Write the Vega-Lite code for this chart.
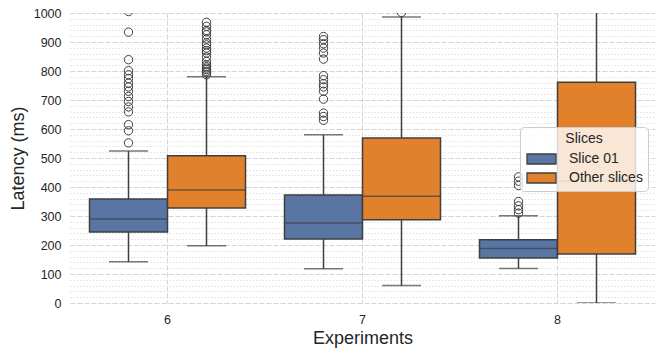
{
  "$schema": "https://vega.github.io/schema/vega-lite/v6.json",
  "width": 585,
  "height": 290,
  "autosize": {"type": "none"},
  "padding": {"left": 70, "top": 13, "right": 10, "bottom": 54},
  "background": "white",
  "config": {
    "view": {"stroke": null},
    "font": "Liberation Sans",
    "axis": {
      "domain": false,
      "ticks": false,
      "labelFont": "Liberation Sans",
      "labelFontSize": 12.5,
      "labelColor": "#262626",
      "titleFont": "Liberation Sans",
      "titleFontSize": 18,
      "titleFontWeight": "normal",
      "titleColor": "#262626",
      "gridColor": "#d4d4d4",
      "gridWidth": 1
    }
  },
  "datasets": {
    "boxes": [
      {"exp": "6", "slice": "Slice 01", "lo": 142, "q1": 245, "med": 290, "q3": 359, "hi": 524},
      {"exp": "6", "slice": "Other slices", "lo": 197, "q1": 328, "med": 390, "q3": 508, "hi": 780},
      {"exp": "7", "slice": "Slice 01", "lo": 118, "q1": 221, "med": 276, "q3": 372, "hi": 580},
      {"exp": "7", "slice": "Other slices", "lo": 60, "q1": 287, "med": 368, "q3": 569, "hi": 986},
      {"exp": "8", "slice": "Slice 01", "lo": 119, "q1": 155, "med": 188, "q3": 218, "hi": 301},
      {"exp": "8", "slice": "Other slices", "lo": 0, "q1": 169, "med": 420, "q3": 761, "hi": 1400}
    ],
    "outliers": [
      {"exp": "6", "slice": "Slice 01", "latency": 1005},
      {"exp": "6", "slice": "Slice 01", "latency": 934},
      {"exp": "6", "slice": "Slice 01", "latency": 839},
      {"exp": "6", "slice": "Slice 01", "latency": 801},
      {"exp": "6", "slice": "Slice 01", "latency": 787},
      {"exp": "6", "slice": "Slice 01", "latency": 774},
      {"exp": "6", "slice": "Slice 01", "latency": 758},
      {"exp": "6", "slice": "Slice 01", "latency": 745},
      {"exp": "6", "slice": "Slice 01", "latency": 730},
      {"exp": "6", "slice": "Slice 01", "latency": 712},
      {"exp": "6", "slice": "Slice 01", "latency": 695},
      {"exp": "6", "slice": "Slice 01", "latency": 676},
      {"exp": "6", "slice": "Slice 01", "latency": 659},
      {"exp": "6", "slice": "Slice 01", "latency": 615},
      {"exp": "6", "slice": "Slice 01", "latency": 594},
      {"exp": "6", "slice": "Slice 01", "latency": 552},
      {"exp": "6", "slice": "Other slices", "latency": 968},
      {"exp": "6", "slice": "Other slices", "latency": 954},
      {"exp": "6", "slice": "Other slices", "latency": 940},
      {"exp": "6", "slice": "Other slices", "latency": 935},
      {"exp": "6", "slice": "Other slices", "latency": 925},
      {"exp": "6", "slice": "Other slices", "latency": 910},
      {"exp": "6", "slice": "Other slices", "latency": 897},
      {"exp": "6", "slice": "Other slices", "latency": 890},
      {"exp": "6", "slice": "Other slices", "latency": 879},
      {"exp": "6", "slice": "Other slices", "latency": 870},
      {"exp": "6", "slice": "Other slices", "latency": 862},
      {"exp": "6", "slice": "Other slices", "latency": 848},
      {"exp": "6", "slice": "Other slices", "latency": 833},
      {"exp": "6", "slice": "Other slices", "latency": 822},
      {"exp": "6", "slice": "Other slices", "latency": 815},
      {"exp": "6", "slice": "Other slices", "latency": 810},
      {"exp": "6", "slice": "Other slices", "latency": 805},
      {"exp": "6", "slice": "Other slices", "latency": 799},
      {"exp": "6", "slice": "Other slices", "latency": 795},
      {"exp": "6", "slice": "Other slices", "latency": 787},
      {"exp": "7", "slice": "Slice 01", "latency": 919},
      {"exp": "7", "slice": "Slice 01", "latency": 908},
      {"exp": "7", "slice": "Slice 01", "latency": 894},
      {"exp": "7", "slice": "Slice 01", "latency": 879},
      {"exp": "7", "slice": "Slice 01", "latency": 862},
      {"exp": "7", "slice": "Slice 01", "latency": 841},
      {"exp": "7", "slice": "Slice 01", "latency": 784},
      {"exp": "7", "slice": "Slice 01", "latency": 770},
      {"exp": "7", "slice": "Slice 01", "latency": 756},
      {"exp": "7", "slice": "Slice 01", "latency": 745},
      {"exp": "7", "slice": "Slice 01", "latency": 730},
      {"exp": "7", "slice": "Slice 01", "latency": 703},
      {"exp": "7", "slice": "Slice 01", "latency": 655},
      {"exp": "7", "slice": "Slice 01", "latency": 643},
      {"exp": "7", "slice": "Slice 01", "latency": 630},
      {"exp": "7", "slice": "Other slices", "latency": 1002},
      {"exp": "8", "slice": "Slice 01", "latency": 435},
      {"exp": "8", "slice": "Slice 01", "latency": 420},
      {"exp": "8", "slice": "Slice 01", "latency": 405},
      {"exp": "8", "slice": "Slice 01", "latency": 350},
      {"exp": "8", "slice": "Slice 01", "latency": 335},
      {"exp": "8", "slice": "Slice 01", "latency": 322},
      {"exp": "8", "slice": "Slice 01", "latency": 310}
    ]
  },
  "encoding": {
    "x": {
      "field": "exp",
      "type": "nominal",
      "scale": {"domain": ["6", "7", "8"], "paddingInner": 0, "paddingOuter": 0},
      "axis": {
        "title": "Experiments",
        "labelAngle": 0,
        "grid": true,
        "gridDash": [5, 2],
        "labelPadding": 10,
        "titlePadding": 4
      }
    },
    "xOffset": {
      "field": "slice",
      "type": "nominal",
      "scale": {"domain": ["Slice 01", "Other slices"], "paddingInner": 0, "paddingOuter": 0.25}
    }
  },
  "layer": [
    {
      "data": {"name": "boxes"},
      "mark": {"type": "rule", "color": "#3f3f3f", "strokeWidth": 1.5, "clip": true},
      "encoding": {
        "y": {
          "field": "lo",
          "type": "quantitative",
          "scale": {"domain": [0, 1000], "nice": false},
          "axis": {
            "title": "Latency (ms)",
            "values": [0, 20, 40, 60, 80, 100, 120, 140, 160, 180, 200, 220, 240, 260, 280, 300, 320, 340, 360, 380, 400, 420, 440, 460, 480, 500, 520, 540, 560, 580, 600, 620, 640, 660, 680, 700, 720, 740, 760, 780, 800, 820, 840, 860, 880, 900, 920, 940, 960, 980, 1000],
            "format": "d",
            "labelExpr": "datum.value % 100 === 0 ? datum.label : ''",
            "labelOverlap": false,
            "labelPadding": 9,
            "titlePadding": 6,
            "gridDash": {"condition": {"test": "datum.value % 100 === 0", "value": [5, 2]}, "value": [1.2, 2]},
            "gridColor": {"condition": {"test": "datum.value % 100 === 0", "value": "#d4d4d4"}, "value": "#dcdcdc"}
          }
        },
        "y2": {"field": "hi"}
      }
    },
    {
      "data": {"name": "boxes"},
      "mark": {"type": "bar", "stroke": "#3f3f3f", "strokeWidth": 1.5, "clip": true},
      "encoding": {
        "y": {
          "field": "q1",
          "type": "quantitative",
          "axis": {
            "title": "Latency (ms)",
            "values": [0, 20, 40, 60, 80, 100, 120, 140, 160, 180, 200, 220, 240, 260, 280, 300, 320, 340, 360, 380, 400, 420, 440, 460, 480, 500, 520, 540, 560, 580, 600, 620, 640, 660, 680, 700, 720, 740, 760, 780, 800, 820, 840, 860, 880, 900, 920, 940, 960, 980, 1000],
            "format": "d",
            "labelExpr": "datum.value % 100 === 0 ? datum.label : ''",
            "labelOverlap": false,
            "labelPadding": 9,
            "titlePadding": 6,
            "gridDash": {"condition": {"test": "datum.value % 100 === 0", "value": [5, 2]}, "value": [1.2, 2]},
            "gridColor": {"condition": {"test": "datum.value % 100 === 0", "value": "#d4d4d4"}, "value": "#dcdcdc"}
          }
        },
        "y2": {"field": "q3"},
        "color": {
          "field": "slice",
          "type": "nominal",
          "scale": {"domain": ["Slice 01", "Other slices"], "range": ["#5975a4", "#e1812c"]},
          "legend": {
            "title": "Slices",
            "orient": "none",
            "legendX": 450,
            "legendY": 114,
            "titleAnchor": "middle",
            "titleFontSize": 14,
            "titleFontWeight": "normal",
            "titleColor": "#262626",
            "titleFont": "Liberation Sans",
            "titlePadding": 2,
            "labelFontSize": 14,
            "labelColor": "#262626",
            "labelFont": "Liberation Sans",
            "labelOffset": 22,
            "symbolType": "M-0.9,-0.5H2V0.5H-0.9Z",
            "symbolSize": 400,
            "symbolStrokeColor": "#3f3f3f",
            "symbolStrokeWidth": 1.3,
            "symbolOpacity": 1,
            "rowPadding": 0,
            "padding": 5,
            "fillColor": "rgba(255,255,255,0.8)",
            "strokeColor": "#cccccc",
            "cornerRadius": 4
          }
        }
      }
    },
    {
      "data": {"name": "boxes"},
      "mark": {"type": "tick", "color": "#3f3f3f", "thickness": 1.5, "size": 78, "orient": "horizontal"},
      "encoding": {
        "y": {
          "field": "med",
          "type": "quantitative",
          "axis": {
            "title": "Latency (ms)",
            "values": [0, 20, 40, 60, 80, 100, 120, 140, 160, 180, 200, 220, 240, 260, 280, 300, 320, 340, 360, 380, 400, 420, 440, 460, 480, 500, 520, 540, 560, 580, 600, 620, 640, 660, 680, 700, 720, 740, 760, 780, 800, 820, 840, 860, 880, 900, 920, 940, 960, 980, 1000],
            "format": "d",
            "labelExpr": "datum.value % 100 === 0 ? datum.label : ''",
            "labelOverlap": false,
            "labelPadding": 9,
            "titlePadding": 6,
            "gridDash": {"condition": {"test": "datum.value % 100 === 0", "value": [5, 2]}, "value": [1.2, 2]},
            "gridColor": {"condition": {"test": "datum.value % 100 === 0", "value": "#d4d4d4"}, "value": "#dcdcdc"}
          }
        }
      }
    },
    {
      "data": {"name": "boxes"},
      "mark": {"type": "tick", "color": "#3f3f3f", "thickness": 1.5, "size": 39, "orient": "horizontal", "clip": true},
      "encoding": {
        "y": {
          "field": "lo",
          "type": "quantitative",
          "axis": {
            "title": "Latency (ms)",
            "values": [0, 20, 40, 60, 80, 100, 120, 140, 160, 180, 200, 220, 240, 260, 280, 300, 320, 340, 360, 380, 400, 420, 440, 460, 480, 500, 520, 540, 560, 580, 600, 620, 640, 660, 680, 700, 720, 740, 760, 780, 800, 820, 840, 860, 880, 900, 920, 940, 960, 980, 1000],
            "format": "d",
            "labelExpr": "datum.value % 100 === 0 ? datum.label : ''",
            "labelOverlap": false,
            "labelPadding": 9,
            "titlePadding": 6,
            "gridDash": {"condition": {"test": "datum.value % 100 === 0", "value": [5, 2]}, "value": [1.2, 2]},
            "gridColor": {"condition": {"test": "datum.value % 100 === 0", "value": "#d4d4d4"}, "value": "#dcdcdc"}
          }
        }
      }
    },
    {
      "data": {"name": "boxes"},
      "mark": {"type": "tick", "color": "#3f3f3f", "thickness": 1.5, "size": 39, "orient": "horizontal", "clip": true},
      "encoding": {
        "y": {
          "field": "hi",
          "type": "quantitative",
          "axis": {
            "title": "Latency (ms)",
            "values": [0, 20, 40, 60, 80, 100, 120, 140, 160, 180, 200, 220, 240, 260, 280, 300, 320, 340, 360, 380, 400, 420, 440, 460, 480, 500, 520, 540, 560, 580, 600, 620, 640, 660, 680, 700, 720, 740, 760, 780, 800, 820, 840, 860, 880, 900, 920, 940, 960, 980, 1000],
            "format": "d",
            "labelExpr": "datum.value % 100 === 0 ? datum.label : ''",
            "labelOverlap": false,
            "labelPadding": 9,
            "titlePadding": 6,
            "gridDash": {"condition": {"test": "datum.value % 100 === 0", "value": [5, 2]}, "value": [1.2, 2]},
            "gridColor": {"condition": {"test": "datum.value % 100 === 0", "value": "#d4d4d4"}, "value": "#dcdcdc"}
          }
        }
      }
    },
    {
      "data": {"name": "outliers"},
      "mark": {"type": "point", "shape": "circle", "filled": false, "stroke": "#3f3f3f", "strokeWidth": 1, "size": 70, "opacity": 1, "clip": true},
      "encoding": {
        "y": {
          "field": "latency",
          "type": "quantitative",
          "axis": {
            "title": "Latency (ms)",
            "values": [0, 20, 40, 60, 80, 100, 120, 140, 160, 180, 200, 220, 240, 260, 280, 300, 320, 340, 360, 380, 400, 420, 440, 460, 480, 500, 520, 540, 560, 580, 600, 620, 640, 660, 680, 700, 720, 740, 760, 780, 800, 820, 840, 860, 880, 900, 920, 940, 960, 980, 1000],
            "format": "d",
            "labelExpr": "datum.value % 100 === 0 ? datum.label : ''",
            "labelOverlap": false,
            "labelPadding": 9,
            "titlePadding": 6,
            "gridDash": {"condition": {"test": "datum.value % 100 === 0", "value": [5, 2]}, "value": [1.2, 2]},
            "gridColor": {"condition": {"test": "datum.value % 100 === 0", "value": "#d4d4d4"}, "value": "#dcdcdc"}
          }
        }
      }
    }
  ]
}
